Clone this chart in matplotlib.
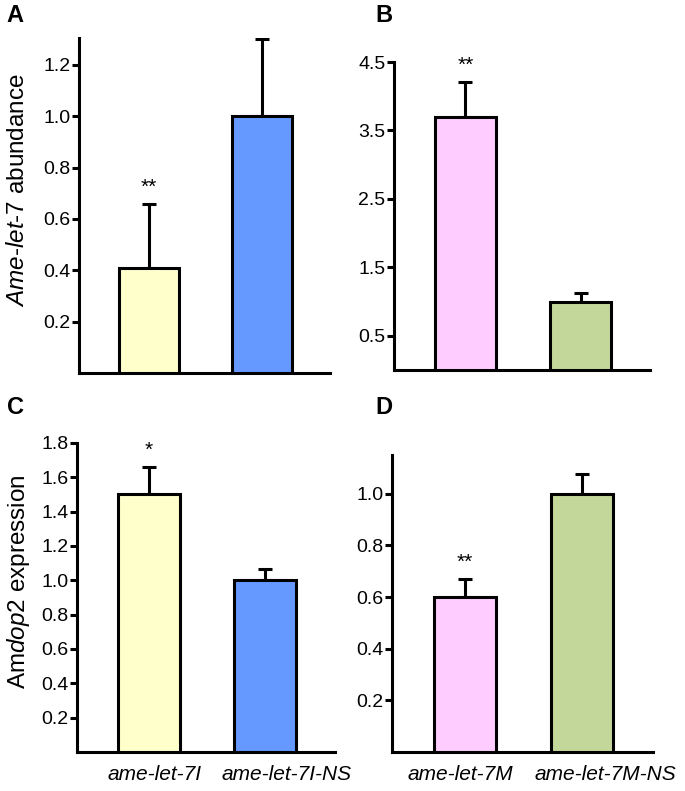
import matplotlib
matplotlib.use("Agg")
import matplotlib.pyplot as plt
from matplotlib.transforms import ScaledTranslation

plt.rcParams['font.family'] = ['Liberation Sans', 'DejaVu Sans']
plt.rcParams['mathtext.fontset'] = 'custom'
plt.rcParams['mathtext.rm'] = 'Liberation Sans'
plt.rcParams['mathtext.it'] = 'Liberation Sans:italic'

# Panel A: ame-let-7 abundance (inhibitor)
a_values = [0.41, 1.00]
a_errors = [0.25, 0.30]
a_ticks = [0.2, 0.4, 0.6, 0.8, 1.0, 1.2]
a_stars = ['**', '']

# Panel B: ame-let-7 abundance (mimic)
b_values = [3.70, 1.00]
b_errors = [0.51, 0.13]
b_ticks = [0.5, 1.5, 2.5, 3.5, 4.5]
b_stars = ['**', '']

# Panel C: Amdop2 expression (inhibitor)
c_values = [1.50, 1.00]
c_errors = [0.16, 0.065]
c_ticks = [0.2, 0.4, 0.6, 0.8, 1.0, 1.2, 1.4, 1.6, 1.8]
c_stars = ['*', '']
c_labels = ['ame-let-7I', 'ame-let-7I-NS']

# Panel D: Amdop2 expression (mimic)
d_values = [0.60, 1.00]
d_errors = [0.07, 0.075]
d_ticks = [0.2, 0.4, 0.6, 0.8, 1.0]
d_stars = ['**', '']
d_labels = ['ame-let-7M', 'ame-let-7M-NS']

YELLOW = '#FFFFCC'
BLUE = '#6699FF'
PINK = '#FFCCFF'
GREEN = '#C4D79B'

LW = 2.2

fig = plt.figure(figsize=(6.85, 7.91), dpi=100)


def panel(rect, values, errors, ticks, ymax, colors, stars, letter, letter_xy,
          labels=None, label_shift=(0, 0), ylabel=None, ylabel_xy=None):
    ax = fig.add_axes(rect)
    x = [0, 1]
    ax.bar(x, values, width=0.53, color=colors, edgecolor='black',
           linewidth=LW, zorder=3)
    ax.errorbar(x, values, yerr=[[0, 0], errors], fmt='none', ecolor='black',
                elinewidth=LW, capsize=5, capthick=LW, zorder=2)
    for xi, v, e, s in zip(x, values, errors, stars):
        if s:
            ax.annotate(s, (xi, v + e), xytext=(0, 5), textcoords='offset points',
                        ha='center', va='bottom', fontsize=15)
    ax.set_xlim(-0.62, 1.6)
    ax.set_ylim(0, ymax)
    ax.set_yticks(ticks)
    ax.set_yticklabels([f'{t:.1f}' for t in ticks])
    for side in ('top', 'right'):
        ax.spines[side].set_visible(False)
    for side in ('left', 'bottom'):
        ax.spines[side].set_linewidth(LW)
    ax.tick_params(axis='y', length=5, width=LW, labelsize=14, pad=1)
    if labels:
        ax.set_xticks(x)
        ax.set_xticklabels(labels, fontstyle='italic', fontsize=15)
        ax.tick_params(axis='x', length=0, pad=9)
        # the original labels sit a little right of the bar centres
        for lab, dx in zip(ax.get_xticklabels(), label_shift):
            lab.set_transform(lab.get_transform()
                              + ScaledTranslation(dx / 100, 0, fig.dpi_scale_trans))
    else:
        ax.set_xticks([])
    if ylabel:
        ax.set_ylabel(ylabel, fontsize=17.5)
        ax.yaxis.set_label_coords(*ylabel_xy)
    fig.text(letter_xy[0], letter_xy[1], letter, fontsize=17, fontweight='bold',
             ha='left', va='top')
    return ax


panel([0.1153, 0.5284, 0.3665, 0.4236], a_values, a_errors, a_ticks, 1.305,
      [YELLOW, BLUE], a_stars, 'A', (0.010, 0.995),
      ylabel=r'$\it{Ame}$-$\it{let}$-$\it{7}$ abundance', ylabel_xy=(-0.2, 0.546))
panel([0.575, 0.532, 0.374, 0.3896], b_values, b_errors, b_ticks, 4.5,
      [PINK, GREEN], b_stars, 'B', (0.548, 0.995))
panel([0.1124, 0.0493, 0.3766, 0.3907], c_values, c_errors, c_ticks, 1.8,
      [YELLOW, BLUE], c_stars, 'C', (0.010, 0.500),
      labels=c_labels, label_shift=(5, 21),
      ylabel=r'Am$\it{dop2}$ expression', ylabel_xy=(-0.175, 0.55))
panel([0.572, 0.0493, 0.381, 0.3755], d_values, d_errors, d_ticks, 1.15,
      [PINK, GREEN], d_stars, 'D', (0.548, 0.500),
      labels=d_labels, label_shift=(-4, 23))

fig.savefig('out.png', dpi=100)
